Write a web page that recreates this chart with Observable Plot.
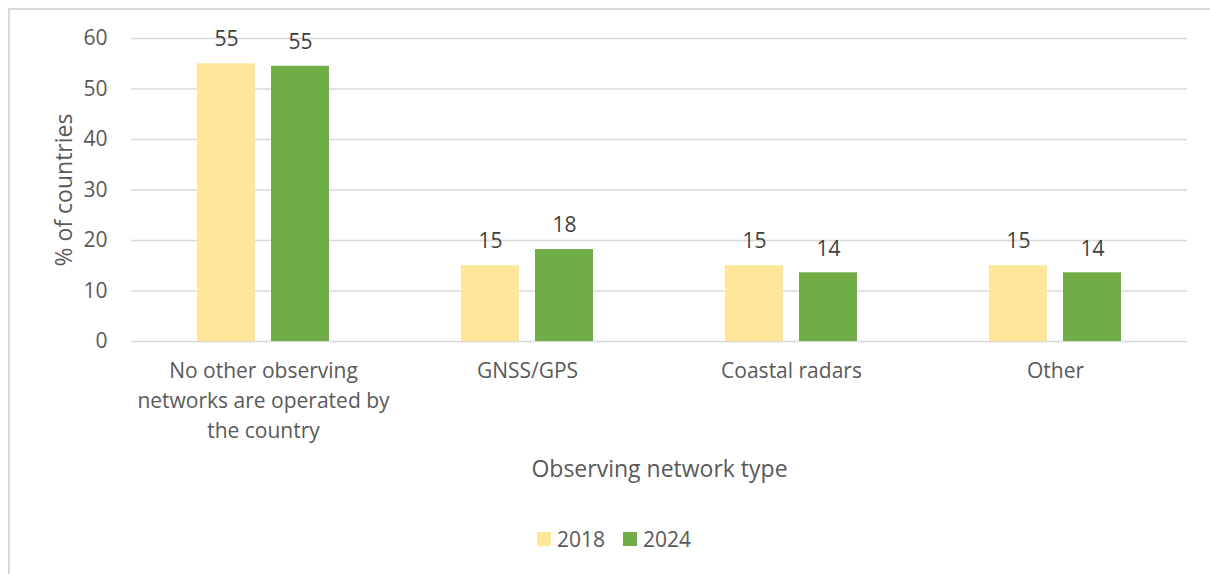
<!DOCTYPE html>
<html>
<head>
<meta charset="utf-8">
<script src="https://cdn.jsdelivr.net/npm/d3@7"></script>
<script src="https://cdn.jsdelivr.net/npm/@observablehq/plot@0.6"></script>
<style>
  html, body { margin: 0; padding: 0; background: #fff; }
  body { width: 1210px; height: 574px; position: relative; overflow: hidden; font-family: "Open Sans", sans-serif; }
  #frame { position: absolute; left: 8px; top: 8px; width: 1300px; height: 700px; border-left: 2px solid #d9d9d9; border-top: 2px solid #d9d9d9; }
  #chart { position: absolute; left: 0; top: 0; }
  #legend { position: absolute; top: 525px; left: 0; width: 1210px; display: flex; justify-content: center; gap: 18px; font-size: 21px; color: #595959; padding-left: 18px; box-sizing: border-box; }
  #legend .item { display: flex; align-items: center; gap: 6px; }
  #legend .sw { width: 14px; height: 14px; display: inline-block; }
</style>
</head>
<body>
<div id="frame"></div>
<div id="chart"></div>
<div id="legend"></div>
<script>
const categories = ["No other observing networks are operated by the country", "GNSS/GPS", "Coastal radars", "Other"];
const categoryLabels = ["No other observing\nnetworks are operated by\nthe country", "GNSS/GPS", "Coastal radars", "Other"];
const years = ["2018", "2024"];
const values2018 = [55, 15, 15, 15];
const values2024 = [54.5, 18.2, 13.6, 13.6];
const yTicks = [0, 10, 20, 30, 40, 50, 60];
const colors = ["#FFE699", "#70AD47"];
const xTitle = "Observing network type";
const yTitle = "% of countries";

const data = [];
categories.forEach((c, i) => {
  data.push({category: c, year: years[0], value: values2018[i]});
  data.push({category: c, year: years[1], value: values2024[i]});
});
const labelOf = new Map(categories.map((c, i) => [c, categoryLabels[i]]));

const chart = Plot.plot({
  width: 1210,
  height: 500,
  marginTop: 38,
  marginBottom: 159,
  marginLeft: 130,
  marginRight: 23,
  style: {fontFamily: "'Open Sans', sans-serif", color: "#595959", background: "transparent"},
  fx: {domain: categories, padding: 0},
  x: {domain: years, paddingInner: 0.21, paddingOuter: 0.87, axis: null},
  y: {domain: [0, 60]},
  color: {domain: years, range: colors},
  marks: [
    Plot.gridY(yTicks, {stroke: "#d9d9d9", strokeOpacity: 1, strokeWidth: 1.5}),
    Plot.barY(data, {fx: "category", x: "year", y: "value", fill: "year"}),
    Plot.text(data, {fx: "category", x: "year", y: "value", text: d => String(Math.round(d.value)), dy: -24, fontSize: 21, fill: "#404040"}),
    Plot.axisY({ticks: yTicks, tickSize: 0, tickPadding: 24, fontSize: 21, label: null}),
    Plot.axisY({ticks: yTicks, tickSize: 0, tickFormat: () => "", fontSize: 23, label: yTitle, labelAnchor: "center", labelArrow: "none", labelOffset: 76}),
    Plot.axisFx({anchor: "bottom", tickSize: 0, tickPadding: 15, fontSize: 21, lineHeight: 1.43, tickFormat: d => labelOf.get(d), label: null}),
    Plot.axisFx({anchor: "bottom", tickSize: 0, tickFormat: () => "", fontSize: 23, label: xTitle, labelAnchor: "center", labelArrow: "none", labelOffset: 135})
  ]
});
document.getElementById("chart").appendChild(chart);

const legend = document.getElementById("legend");
years.forEach((y, i) => {
  const item = document.createElement("span");
  item.className = "item";
  const sw = document.createElement("span");
  sw.className = "sw";
  sw.style.background = colors[i];
  const t = document.createElement("span");
  t.textContent = y;
  item.appendChild(sw);
  item.appendChild(t);
  legend.appendChild(item);
});
</script>
</body>
</html>
